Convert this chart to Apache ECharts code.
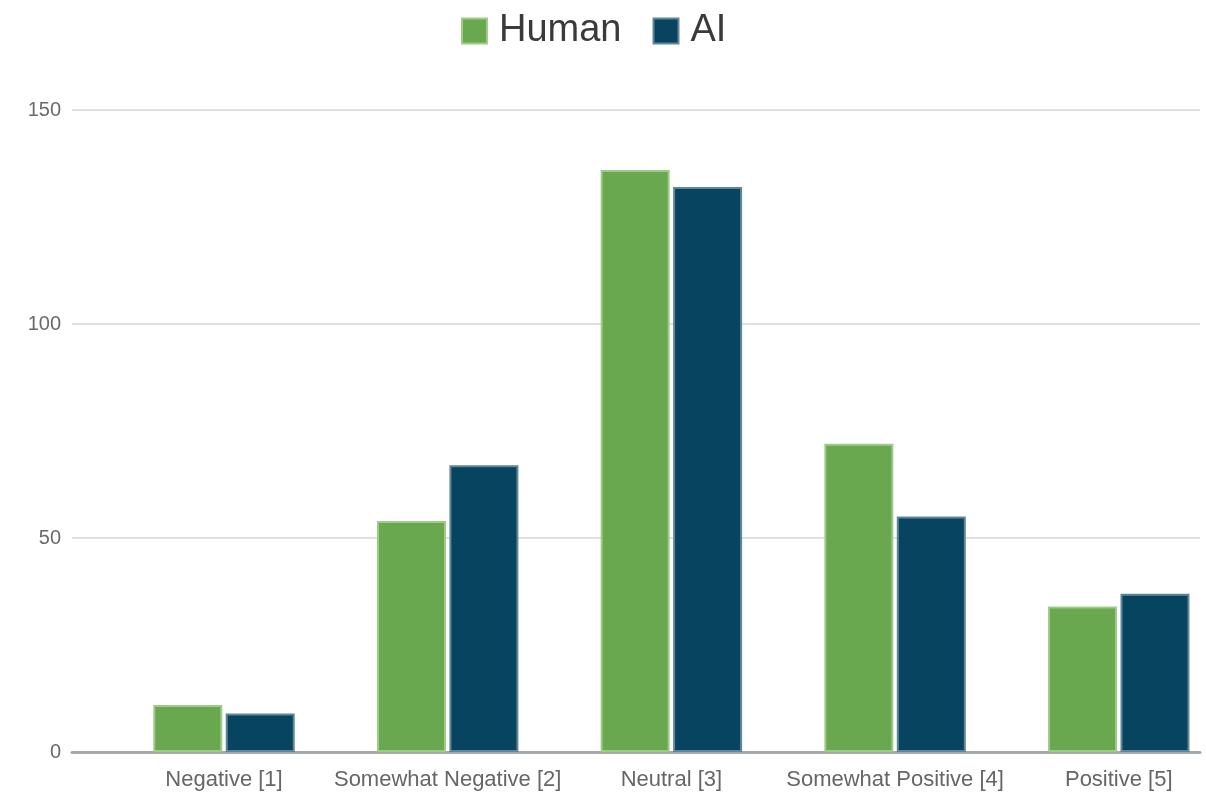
<!DOCTYPE html>
<html>
<head>
<meta charset="utf-8">
<script src="https://cdn.jsdelivr.net/npm/echarts@6/dist/echarts.min.js"></script>
<style>
  html, body { margin: 0; padding: 0; background: #ffffff; }
  #chart { width: 1206px; height: 802px; }
</style>
</head>
<body>
<div id="chart"></div>
<script>
// Sentiment ratings: number of responses per rating, human vs AI
const categories = ['Negative [1]', 'Somewhat Negative [2]', 'Neutral [3]', 'Somewhat Positive [4]', 'Positive [5]'];
const humanValues = [11, 54, 136, 72, 34];
const aiValues = [9, 67, 132, 55, 37];
const yTicks = { min: 0, max: 150, interval: 50 };

const FONT = '"Liberation Sans", Arial, sans-serif';
const GREEN = '#6aa84f';
const NAVY = '#07445f';

// Bars sit at integer positions 0..n-1 on a numeric x scale so the last
// category band may run past the right edge of the canvas.
const toPoints = vals => vals.map((v, i) => [i, v]);

const chart = echarts.init(document.getElementById('chart'), null, { renderer: 'canvas' });

chart.setOption({
  backgroundColor: '#ffffff',
  animation: false,
  textStyle: { fontFamily: FONT },
  legend: {
    top: 12,
    left: 461,
    padding: 0,
    itemWidth: 25,
    itemHeight: 25,
    itemGap: 31,
    icon: 'rect',
    textStyle: { fontSize: 38, color: '#3a3a3a', fontFamily: FONT, padding: [0, 0, 0, 7] },
    data: ['Human', 'AI']
  },
  grid: [
    // value scale, gridlines and baseline
    { left: 72, width: 1128, top: 110, height: 642 },
    // category positions for the bars (first centre at x = 224)
    { left: 224, width: 982, top: 110, height: 642 }
  ],
  xAxis: [
    {
      gridIndex: 0, type: 'value', min: 0, max: 1,
      axisLine: { show: true, lineStyle: { color: '#a8a8a8', width: 3 } },
      axisTick: { show: false }, axisLabel: { show: false }, splitLine: { show: false }
    },
    {
      gridIndex: 1, type: 'value', min: 0, max: 4.39, interval: 1,
      axisLine: { show: false }, axisTick: { show: false }, splitLine: { show: false },
      axisLabel: {
        fontSize: 22, color: '#666666', margin: 17, fontFamily: FONT,
        showMaxLabel: false,
        formatter: v => (Number.isInteger(v) && categories[v] !== undefined) ? categories[v] : ''
      }
    }
  ],
  yAxis: [
    {
      gridIndex: 0, type: 'value', min: yTicks.min, max: yTicks.max, interval: yTicks.interval,
      axisLine: { show: false }, axisTick: { show: false },
      axisLabel: { fontSize: 20, color: '#6a6a6a', margin: 11, fontFamily: FONT },
      splitLine: { lineStyle: { color: '#e0e0e0', width: 2 } }
    },
    {
      gridIndex: 1, type: 'value', min: yTicks.min, max: yTicks.max, interval: yTicks.interval,
      show: false
    }
  ],
  series: [
    {
      name: 'Human', type: 'bar', xAxisIndex: 1, yAxisIndex: 1, clip: false,
      data: toPoints(humanValues), barWidth: 69, barGap: '5%',
      itemStyle: { color: GREEN, borderColor: '#9fcb8a', borderWidth: 2 },
      z: 3
    },
    {
      name: 'AI', type: 'bar', xAxisIndex: 1, yAxisIndex: 1, clip: false,
      data: toPoints(aiValues), barWidth: 69, barGap: '5%',
      itemStyle: { color: NAVY, borderColor: '#5f8799', borderWidth: 2 },
      z: 3
    }
  ]
});
</script>
</body>
</html>
